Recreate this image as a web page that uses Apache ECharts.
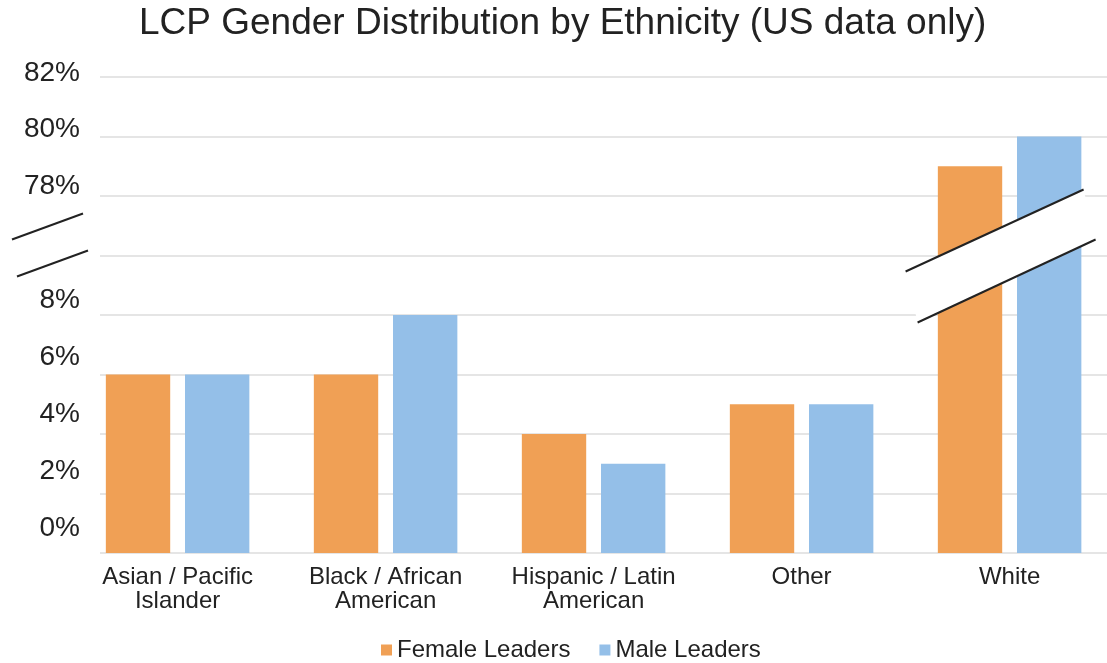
<!DOCTYPE html>
<html>
<head>
<meta charset="utf-8">
<title>LCP Gender Distribution by Ethnicity</title>
<script src="https://cdn.jsdelivr.net/npm/echarts@6/dist/echarts.min.js"></script>
<style>
	html, body { margin: 0; padding: 0; background: #fff; }
	#lcpChart { width: 1107px; height: 663px; }
</style>
</head>
<body>
<div id="lcpChart"></div>
<script>
// data
var categories = ['Asian / Pacific\nIslander', 'Black / African\nAmerican', 'Hispanic / Latin\nAmerican', 'Other', 'White'];
var femaleLeaders = [6, 6, 4, 5, 79];
var maleLeaders = [6, 8, 3, 5, 80];
var tickLabels = ['0%', '2%', '4%', '6%', '8%', '', '78%', '80%', '82%'];

// broken axis: 78% and up is drawn from position 12
var breakFrom = 78;
var breakAt = 12;

var FONT = 'Liberation Sans, Arial, Helvetica, sans-serif';

function toAxis(v){
	return v >= breakFrom ? v - breakFrom + breakAt : v;
}

window.onload = function(){
	genderChart();
}

function genderChart(){
	var chart = echarts.init(document.getElementById('lcpChart'));
	var option = {
		backgroundColor: '#fff',
		animation: false,
		title: {
			text: 'LCP Gender Distribution by Ethnicity (US data only)',
			left: 139,
			top: 5,
			padding: 0,
			textStyle: { fontFamily: FONT, fontSize: 37, fontWeight: 'normal', color: '#222' }
		},
		legend: {
			data: ['Female Leaders', 'Male Leaders'],
			left: 381,
			top: 638,
			padding: 0,
			icon: 'rect',
			itemWidth: 11,
			itemHeight: 11,
			itemGap: 29,
			textStyle: { fontFamily: FONT, fontSize: 24, color: '#222' }
		},
		grid: [
			// bars
			{ left: 73.6, width: 1040, top: 77, bottom: 110, outerBoundsMode: 'none' },
			// gridlines
			{ left: 100, right: 0, top: 77, bottom: 110, outerBoundsMode: 'none' },
			// tick labels (placed a little above the lines, like the original)
			{ left: 90, width: 10, top: 72.8, bottom: 135, outerBoundsMode: 'none' }
		],
		xAxis: [
			{
				type: 'category',
				gridIndex: 0,
				data: categories,
				axisLine: { show: false },
				axisTick: { show: false },
				axisLabel: { fontFamily: FONT, fontSize: 24, lineHeight: 24, color: '#222', margin: 12, interval: 0 }
			},
			{ type: 'value', gridIndex: 1, show: false },
			{ type: 'value', gridIndex: 2, show: false }
		],
		yAxis: [
			{ type: 'value', gridIndex: 0, min: 0, max: 16, interval: 2, show: false },
			{
				type: 'value', gridIndex: 1, min: 0, max: 16, interval: 2,
				axisLine: { show: false },
				axisTick: { show: false },
				axisLabel: { show: false },
				splitLine: { lineStyle: { color: '#dcdcdc', width: 1.5 } }
			},
			{
				type: 'value', gridIndex: 2, min: 0, max: 16, interval: 2,
				axisLine: { show: false },
				axisTick: { show: false },
				splitLine: { show: false },
				axisLabel: {
					fontFamily: FONT, fontSize: 28, color: '#222', margin: 10,
					formatter: function(v){ return tickLabels[Math.round(v / 2)]; }
				}
			}
		],
		series: [
			{
				name: 'Female Leaders',
				type: 'bar',
				xAxisIndex: 0,
				yAxisIndex: 0,
				barGap: '23%',
				barCategoryGap: '31%',
				itemStyle: { color: '#f0a055' },
				data: femaleLeaders.map(toAxis)
			},
			{
				name: 'Male Leaders',
				type: 'bar',
				xAxisIndex: 0,
				yAxisIndex: 0,
				barGap: '23%',
				barCategoryGap: '31%',
				itemStyle: { color: '#94bfe8' },
				data: maleLeaders.map(toAxis)
			}
		]
	};
	chart.setOption(option);

	// break marks, placed from the axis scale
	var y10 = chart.convertToPixel({ yAxisIndex: 1 }, 10);
	var cx = chart.convertToPixel({ xAxisIndex: 0 }, categories.length - 1);
	var stroke = { stroke: '#222', lineWidth: 2 };
	chart.setOption({
		graphic: [
			{ type: 'line', z: 100, shape: { x1: 12, y1: y10 - 16, x2: 83, y2: y10 - 42 }, style: stroke },
			{ type: 'line', z: 100, shape: { x1: 17, y1: y10 + 21, x2: 88, y2: y10 - 5 }, style: stroke },
			{
				type: 'polygon', z: 99,
				shape: { points: [[cx - 104, y10 + 16], [cx + 74, y10 - 66], [cx + 86, y10 - 16], [cx - 92, y10 + 67]] },
				style: { fill: '#fff' }
			},
			{ type: 'line', z: 100, shape: { x1: cx - 104, y1: y10 + 16, x2: cx + 74, y2: y10 - 66 }, style: stroke },
			{ type: 'line', z: 100, shape: { x1: cx - 92, y1: y10 + 67, x2: cx + 86, y2: y10 - 16 }, style: stroke }
		]
	});
}
</script>
</body>
</html>
